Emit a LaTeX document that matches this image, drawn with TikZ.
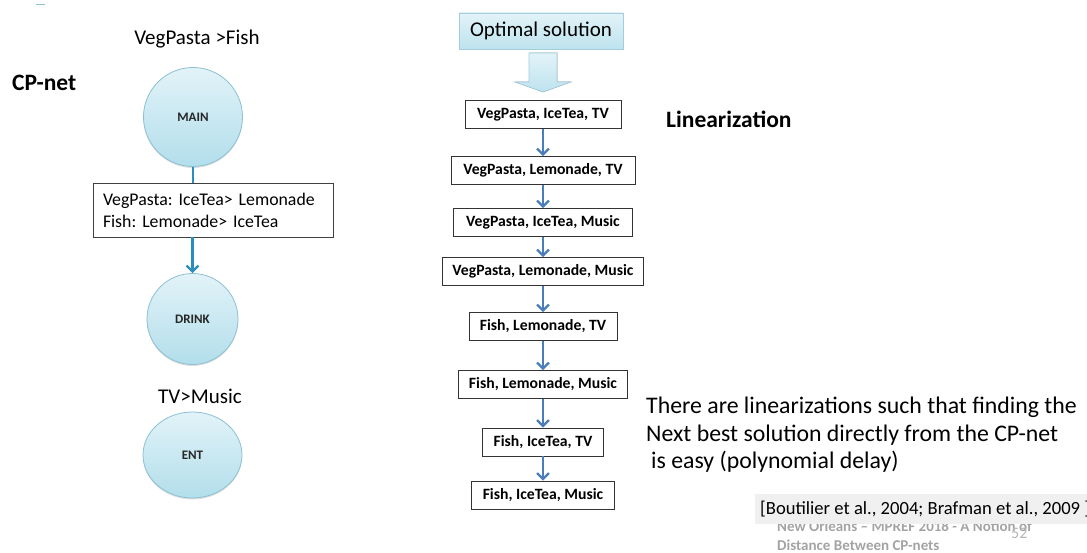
\documentclass[tikz,border=0pt]{standalone}
\usepackage{fontspec}
\setmainfont{Carlito}
\usetikzlibrary{arrows.meta,shapes.geometric,shadows}
\definecolor{circfill}{HTML}{E2F3F8}
\definecolor{circfilldark}{HTML}{B2DEEB}
\definecolor{circline}{HTML}{8CC0D2}
\definecolor{teal}{HTML}{2C8DBF}
\definecolor{linkblue}{HTML}{4A7EBB}
\definecolor{footgray}{HTML}{A3A3A3}
\definecolor{citegray}{HTML}{F0F0F0}
\frenchspacing
\tikzset{
  varnode/.style={circle, draw=circline, line width=0.8pt,
    top color=circfill, bottom color=circfilldark,
    drop shadow={opacity=0.25, shadow xshift=0pt, shadow yshift=-1.5pt},
    font=\fontsize{13}{15}\selectfont\bfseries, text=black!85},
  cptbox/.style={draw=black!75, line width=0.8pt, fill=white, align=left,
    text width=220pt, inner xsep=10pt, minimum height=54pt,
    font=\fontsize{17.8}{22}\selectfont},
  outcome/.style={draw=black!80, line width=0.8pt, fill=white, minimum height=28pt,
    inner xsep=0pt, font=\fontsize{15.7}{18}\selectfont\bfseries},
  label/.style={font=\fontsize{21}{25}\selectfont},
  headline/.style={font=\fontsize{23.5}{27}\selectfont\bfseries},
  depedge/.style={teal, line width=2.4pt},
  nextedge/.style={linkblue, line width=2.4pt, -{Straight Barb[length=6pt, width=12pt, line width=2.2pt]}},
}
\begin{document}
\begin{tikzpicture}[x=1pt, y=-1pt]
\useasboundingbox (0,0) rectangle (1087,553);

% small header tick
\coordinate (tickA) at (36,4.5);
\coordinate (tickB) at (45,4.5);
\draw[color=circline, line width=1.5pt] (tickA) -- (tickB);

% ---------- CP-net ----------
\node[headline, anchor=west, inner xsep=0pt] (title) at (12,83) {CP-net};
\node[label] (mainpref) at (197,39) {VegPasta >Fish};
\node[varnode, minimum size=99pt] (main) at (193,117) {MAIN};
\node[cptbox] (cpt) at (213,210) {VegPasta: IceTea> Lemonade\\Fish: Lemonade> IceTea};
\node[varnode, minimum size=91pt] (drink) at (192.5,319) {DRINK};
\node[label] (entpref) at (200,396) {TV>Music};
\node[varnode, ellipse, minimum width=99pt, minimum height=86pt] (ent) at (192.5,455) {ENT};

\draw[depedge] (main.south) -- (main.south |- cpt.north);
\draw[depedge, -{Straight Barb[length=6pt, width=12pt, line width=2.2pt]}]
  (cpt.south -| drink.north) -- (drink.north);

% ---------- Linearization ----------
\node[draw=circline!80, line width=0.8pt, top color=circfill, bottom color=circfilldark!85,
  minimum width=164pt, minimum height=36pt, font=\fontsize{21}{24}\selectfont,
  drop shadow={opacity=0.15, shadow xshift=1pt, shadow yshift=-1.5pt}]
  (opt) at (541,31) {Optimal solution};

% block arrow below the optimal solution
\coordinate (bt) at (543,53);
\filldraw[draw=circline!80, line width=0.6pt, top color=circfill, bottom color=circfilldark!85]
  ([xshift=-14pt]bt) -- ([xshift=14pt]bt) -- ([xshift=14pt, yshift=-29pt]bt)
  -- ([xshift=28pt, yshift=-29pt]bt) -- ([yshift=-39pt]bt)
  -- ([xshift=-28pt, yshift=-29pt]bt) -- ([xshift=-14pt, yshift=-29pt]bt) -- cycle;

\node[outcome, minimum width=156pt] (o1) at (543,114.5) {VegPasta, IceTea, TV};
\node[outcome, minimum width=184pt] (o2) at (543,170.5) {VegPasta, Lemonade, TV};
\node[outcome, minimum width=179pt] (o3) at (543,222.5) {VegPasta, IceTea, Music};
\node[outcome, minimum width=201pt] (o4) at (543,271.5) {VegPasta, Lemonade, Music};
\node[outcome, minimum width=148pt] (o5) at (543,326.5) {Fish, Lemonade, TV};
\node[outcome, minimum width=169pt] (o6) at (543,384.5) {Fish, Lemonade, Music};
\node[outcome, minimum width=121pt] (o7) at (543,442) {Fish, IceTea, TV};
\node[outcome, minimum width=143pt] (o8) at (543,495) {Fish, IceTea, Music};

\foreach \a/\b in {o1/o2,o2/o3,o3/o4,o4/o5,o5/o6,o6/o7,o7/o8}
  \draw[nextedge] (\a.south) -- (\b.north);

\node[headline, anchor=west, inner xsep=0pt] (lin) at (666,119) {Linearization};

\node[anchor=north west, align=left, inner sep=0pt,
  font=\fontsize{23.8}{27.5}\selectfont] (remark) at (646,397)
  {There are linearizations such that finding the\\
   Next best solution directly from the CP-net\\
   \hspace{5pt}is easy (polynomial delay)};

% footer, partly hidden by the reference box
\node[anchor=west, inner sep=0pt, text=footgray, align=left,
  font=\fontsize{15}{19}\selectfont\bfseries] (footer) at (777,536)
  {New Orleans -- MPREF 2018 - A Notion of\\Distance Between CP-nets};
\node[anchor=west, inner sep=0pt, text=footgray!80,
  font=\fontsize{16}{18}\selectfont] (page) at (1011,533) {52};

\node[anchor=west, fill=citegray, minimum height=30pt, inner xsep=5pt,
  font=\fontsize{18.6}{21}\selectfont] (cite) at (755,509)
  {[Boutilier et al., 2004; Brafman et al., 2009 ]\hspace{10pt}};
\end{tikzpicture}
\end{document}
